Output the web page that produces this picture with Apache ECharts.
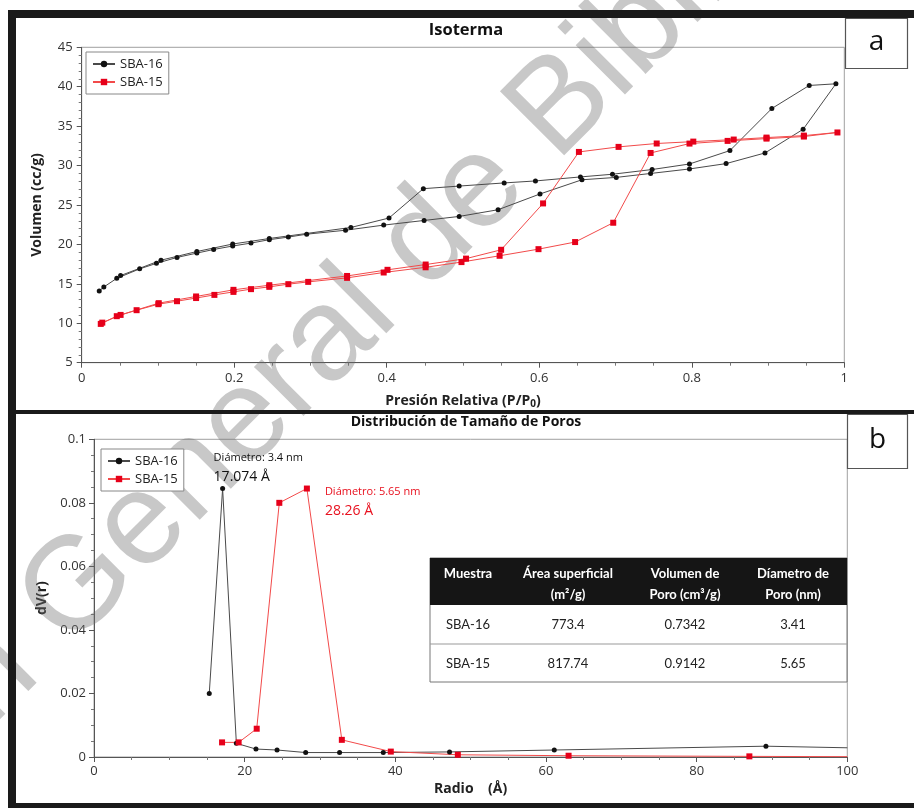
<!DOCTYPE html>
<html>
<head>
<meta charset="utf-8">
<script src="https://cdn.jsdelivr.net/npm/echarts@6/dist/echarts.min.js"></script>
<style>
  html, body { margin: 0; padding: 0; background: #fff; }
  #chart { width: 914px; height: 808px; }
</style>
</head>
<body>
<div id="chart"></div>
<script>
// ---- Isoterma: presión relativa vs volumen, en orden de medida (adsorción y luego desorción)
const sba16IsoP = [0.023, 0.029, 0.046, 0.076, 0.098, 0.125, 0.151, 0.173, 0.198, 0.222, 0.246, 0.271, 0.295, 0.346, 0.396, 0.449, 0.495, 0.546, 0.601, 0.656, 0.701, 0.746, 0.797, 0.845, 0.896, 0.946, 0.989,
                   0.954, 0.905, 0.850, 0.797, 0.748, 0.696, 0.654, 0.595, 0.554, 0.495, 0.448, 0.403, 0.353, 0.246, 0.198, 0.151, 0.104, 0.051];
const sba16IsoV = [14.1, 14.6, 15.7, 16.9, 17.6, 18.35, 18.9, 19.36, 19.8, 20.17, 20.6, 20.93, 21.3, 21.8, 22.45, 23.04, 23.55, 24.4, 26.4, 28.2, 28.5, 29.0, 29.57, 30.25, 31.6, 34.6, 40.37,
                   40.16, 37.24, 31.9, 30.2, 29.5, 28.9, 28.56, 28.05, 27.8, 27.4, 27.07, 23.35, 22.15, 20.75, 20.05, 19.1, 18.0, 16.05];
const sba15IsoP = [0.025, 0.046, 0.072, 0.1005, 0.125, 0.150, 0.174, 0.199, 0.222, 0.246, 0.271, 0.297, 0.348, 0.396, 0.451, 0.498, 0.548, 0.599, 0.647, 0.697, 0.746, 0.797, 0.847, 0.898, 0.947, 0.991,
                   0.947, 0.898, 0.855, 0.802, 0.754, 0.704, 0.652, 0.605, 0.550, 0.504, 0.451, 0.401, 0.348, 0.246, 0.199, 0.150, 0.101, 0.051, 0.027];
const sba15IsoV = [9.92, 10.9, 11.66, 12.42, 12.8, 13.2, 13.6, 13.98, 14.33, 14.62, 14.96, 15.25, 15.76, 16.44, 17.1, 17.76, 18.56, 19.4, 20.3, 22.75, 31.6, 32.79, 33.13, 33.42, 33.68, 34.2,
                   33.8, 33.55, 33.3, 33.04, 32.8, 32.37, 31.73, 25.2, 19.32, 18.2, 17.45, 16.78, 16.0, 14.83, 14.24, 13.4, 12.55, 11.06, 10.08];

// ---- Distribución de tamaño de poros: radio (Å) vs dV(r)
const sba16Radio = [15.3, 17.074, 18.9, 21.5, 24.3, 28.1, 32.6, 38.4, 47.2, 61.1, 89.2, 100];
const sba16DV    = [0.020, 0.0845, 0.0043, 0.0025, 0.0022, 0.0014, 0.0014, 0.0014, 0.0016, 0.0022, 0.0034, 0.0029];
const sba15Radio = [17.0, 19.2, 21.6, 24.6, 28.26, 32.9, 39.4, 48.3, 63.0, 87.0, 100];
const sba15DV    = [0.0046, 0.0046, 0.0089, 0.0800, 0.0845, 0.0054, 0.0017, 0.0007, 0.0004, 0.0002, 0.0001];

// picos anotados
const sba16PeakIndex = 1;
const sba15PeakIndex = 4;
const sba16Diameter = '3.4 nm';
const sba15Diameter = '5.65 nm';

// ---- Tabla de propiedades texturales
const tableHeader = ['Muestra', 'Área superficial\n(m²/g)', 'Volumen de\nPoro (cm³/g)', 'Díametro de\nPoro (nm)'];
const tableRows = [
  ['SBA-16', '773.4', '0.7342', '3.41'],
  ['SBA-15', '817.74', '0.9142', '5.65']
];

const seriesNames = ['SBA-16', 'SBA-15'];
const panelTitles = ['Isoterma', 'Distribución de Tamaño de Poros'];
const panelLetters = ['a', 'b'];
const watermarkText = 'Dirección General de Bibliotecas';

const FONT = '"Open Sans", "Noto Sans", sans-serif';
const TABLE_FONT = 'Lato, "Open Sans", sans-serif';
const BLACK_LINE = '#4a4a4a', BLACK_DOT = '#111';
const RED_LINE = '#f24a4a', RED_DOT = '#e6001a';

function pairs(xs, ys) {
  return xs.map((x, i) => [x, ys[i]]);
}
// the trailing point only carries the line to the frame
function pairsOpenEnd(xs, ys) {
  return xs.map((x, i) => i === xs.length - 1 ? { value: [x, ys[i]], symbol: 'none' } : [x, ys[i]]);
}

const chart = echarts.init(document.getElementById('chart'));

const axisCommon = {
  axisLine: { show: true, onZero: false, lineStyle: { color: '#555', width: 1 } },
  axisTick: { show: true, inside: false, length: 5, lineStyle: { color: '#555' } },
  minorTick: { show: true, length: 3, lineStyle: { color: '#777' } },
  splitLine: { show: false },
  axisLabel: { color: '#333', fontFamily: FONT, fontSize: 13 },
  nameTextStyle: { color: '#222', fontFamily: FONT, fontSize: 14, fontWeight: 'bold' }
};

const legendCommon = {
  data: seriesNames,
  orient: 'vertical',
  backgroundColor: '#fff',
  borderColor: '#888',
  borderWidth: 1,
  borderRadius: 0,
  padding: [4, 6, 4, 6],
  itemGap: 2,
  itemWidth: 22,
  itemHeight: 8,
  textStyle: { fontFamily: FONT, fontSize: 13, color: '#222', lineHeight: 16 }
};

chart.setOption({
  animation: false,
  backgroundColor: '#fff',
  grid: [
    { left: 81.7, top: 47.3, width: 762.6, height: 315.4, show: true, borderColor: '#a0a0a0', borderWidth: 1 },
    { left: 94, top: 439.3, width: 753.3, height: 317.7, show: true, borderColor: '#a0a0a0', borderWidth: 1 }
  ],
  legend: [
    Object.assign({}, legendCommon, { left: 86, top: 52 }),
    Object.assign({}, legendCommon, { left: 101, top: 449 })
  ],
  xAxis: [
    Object.assign({}, axisCommon, {
      gridIndex: 0, type: 'value', min: 0, max: 1, interval: 0.2,
      minorTick: Object.assign({}, axisCommon.minorTick, { splitNumber: 4 }),
      name: 'Presión Relativa (P/P{sub|0})',
      nameLocation: 'middle', nameGap: 30,
      nameTextStyle: Object.assign({}, axisCommon.nameTextStyle, {
        rich: { sub: { fontFamily: FONT, fontSize: 10, fontWeight: 'bold', color: '#222', verticalAlign: 'bottom', padding: [6, 0, 0, 0] } }
      }),
      axisLabel: Object.assign({}, axisCommon.axisLabel, { margin: 9 })
    }),
    Object.assign({}, axisCommon, {
      gridIndex: 1, type: 'value', min: 0, max: 100, interval: 20,
      minorTick: Object.assign({}, axisCommon.minorTick, { splitNumber: 4 }),
      name: 'Radio    (Å)', nameLocation: 'middle', nameGap: 25,
      axisLabel: Object.assign({}, axisCommon.axisLabel, { margin: 8 })
    })
  ],
  yAxis: [
    Object.assign({}, axisCommon, {
      gridIndex: 0, type: 'value', min: 5, max: 45, interval: 5,
      minorTick: Object.assign({}, axisCommon.minorTick, { splitNumber: 5 }),
      name: 'Volumen (cc/g)', nameLocation: 'middle', nameGap: 38,
      axisLabel: Object.assign({}, axisCommon.axisLabel, { margin: 9 })
    }),
    Object.assign({}, axisCommon, {
      gridIndex: 1, type: 'value', min: 0, max: 0.1, interval: 0.02,
      minorTick: Object.assign({}, axisCommon.minorTick, { splitNumber: 4 }),
      name: 'dV(r)', nameLocation: 'middle', nameGap: 34,
      axisLabel: Object.assign({}, axisCommon.axisLabel, { margin: 8 })
    })
  ],
  series: [
    {
      name: seriesNames[0], type: 'line', xAxisIndex: 0, yAxisIndex: 0,
      data: pairs(sba16IsoP, sba16IsoV),
      symbol: 'circle', symbolSize: 5, showAllSymbol: true,
      lineStyle: { color: BLACK_LINE, width: 1 }, itemStyle: { color: BLACK_DOT },
      emphasis: { disabled: true }
    },
    {
      name: seriesNames[1], type: 'line', xAxisIndex: 0, yAxisIndex: 0,
      data: pairs(sba15IsoP, sba15IsoV),
      symbol: 'rect', symbolSize: 6, showAllSymbol: true,
      lineStyle: { color: RED_LINE, width: 1 }, itemStyle: { color: RED_DOT },
      emphasis: { disabled: true }
    },
    {
      name: seriesNames[0], type: 'line', xAxisIndex: 1, yAxisIndex: 1,
      data: pairsOpenEnd(sba16Radio, sba16DV),
      symbol: 'circle', symbolSize: 5, showAllSymbol: true,
      lineStyle: { color: BLACK_LINE, width: 1 }, itemStyle: { color: BLACK_DOT },
      emphasis: { disabled: true }
    },
    {
      name: seriesNames[1], type: 'line', xAxisIndex: 1, yAxisIndex: 1,
      data: pairsOpenEnd(sba15Radio, sba15DV),
      symbol: 'rect', symbolSize: 6, showAllSymbol: true,
      lineStyle: { color: RED_LINE, width: 1 }, itemStyle: { color: RED_DOT },
      emphasis: { disabled: true }
    }
  ]
});

// ---- decorations, annotations and table
const g = [];

// watermark behind the data
g.push({
  type: 'text', z: 1, silent: true,
  x: -372, y: 1040, rotation: Math.PI / 4,
  style: { text: watermarkText, font: 'normal 132px "Liberation Sans", Arial, sans-serif', fill: 'rgba(110,110,110,0.38)', align: 'left', verticalAlign: 'middle' }
});

// black frame and panel separator
[[8, 10, 8, 798], [8, 10, 906, 8], [16, 410, 898, 4], [8, 803, 906, 5]].forEach(r => {
  g.push({ type: 'rect', z: 50, silent: true, shape: { x: r[0], y: r[1], width: r[2], height: r[3] }, style: { fill: '#1a1a1a' } });
});

// panel titles
[[466, 30, 16.5], [466, 422, 14]].forEach((p, i) => {
  g.push({ type: 'text', z: 50, silent: true, x: p[0], y: p[1],
    style: { text: panelTitles[i], font: 'bold ' + p[2] + 'px ' + FONT, fill: '#111', align: 'center', verticalAlign: 'middle' } });
});

// panel letter boxes
[[845, 18, 62, 50], [847, 414, 60, 54]].forEach((r, i) => {
  g.push({ type: 'rect', z: 50, silent: true, shape: { x: r[0] + 0.5, y: r[1] + 0.5, width: r[2], height: r[3] }, style: { fill: '#fff', stroke: '#555', lineWidth: 1.2 } });
  g.push({ type: 'text', z: 51, silent: true, x: r[0] + r[2] / 2 + 0.5, y: r[1] + r[3] / 2 - 1,
    style: { text: panelLetters[i], font: 'normal 28px ' + FONT, fill: '#111', align: 'center', verticalAlign: 'middle' } });
});

// peak annotations, placed from the peak values
const p16 = chart.convertToPixel({ xAxisIndex: 1, yAxisIndex: 1 }, [sba16Radio[sba16PeakIndex], sba16DV[sba16PeakIndex]]);
const p15 = chart.convertToPixel({ xAxisIndex: 1, yAxisIndex: 1 }, [sba15Radio[sba15PeakIndex], sba15DV[sba15PeakIndex]]);
function peakLabel(pt, dx, dy, color, diam, radio) {
  g.push({ type: 'text', z: 30, silent: true, x: pt[0] + dx, y: pt[1] + dy,
    style: { text: 'Diámetro: ' + diam, font: 'normal 11px ' + FONT, fill: color, align: 'left', verticalAlign: 'middle' } });
  g.push({ type: 'text', z: 30, silent: true, x: pt[0] + dx, y: pt[1] + dy + 19,
    style: { text: radio + ' Å', font: 'normal 14px ' + FONT, fill: color, align: 'left', verticalAlign: 'middle' } });
}
peakLabel(p16, -9, -31, '#111', sba16Diameter, String(sba16Radio[sba16PeakIndex]));
peakLabel(p15, 18, 3, '#e8101e', sba15Diameter, String(sba15Radio[sba15PeakIndex]));

// table
const tx = 430, tw = 417, headY = 558, headH = 47, rowH = 38.5;
const colCenters = [468, 568, 685, 793];
g.push({ type: 'rect', z: 30, silent: true, shape: { x: tx, y: headY, width: tw, height: headH + 2 * rowH }, style: { fill: '#fff', stroke: '#777', lineWidth: 1 } });
g.push({ type: 'rect', z: 31, silent: true, shape: { x: tx, y: headY, width: tw, height: headH }, style: { fill: '#151515' } });
g.push({ type: 'line', z: 31, silent: true, shape: { x1: tx, y1: headY + headH + rowH + 0.5, x2: tx + tw, y2: headY + headH + rowH + 0.5 }, style: { stroke: '#999', lineWidth: 1 } });
tableHeader.forEach((h, i) => {
  g.push({ type: 'text', z: 32, silent: true, x: colCenters[i], y: 563,
    style: { text: h, font: 'bold 13px ' + TABLE_FONT, fill: '#fff', align: 'center', verticalAlign: 'top', lineHeight: 21 } });
});
tableRows.forEach((row, r) => {
  row.forEach((cell, i) => {
    g.push({ type: 'text', z: 32, silent: true, x: colCenters[i], y: headY + headH + rowH * r + rowH / 2 + 1,
      style: { text: cell, font: 'normal 13px ' + TABLE_FONT, fill: '#222', align: 'center', verticalAlign: 'middle' } });
  });
});

chart.setOption({ graphic: { elements: g } });
</script>
</body>
</html>
